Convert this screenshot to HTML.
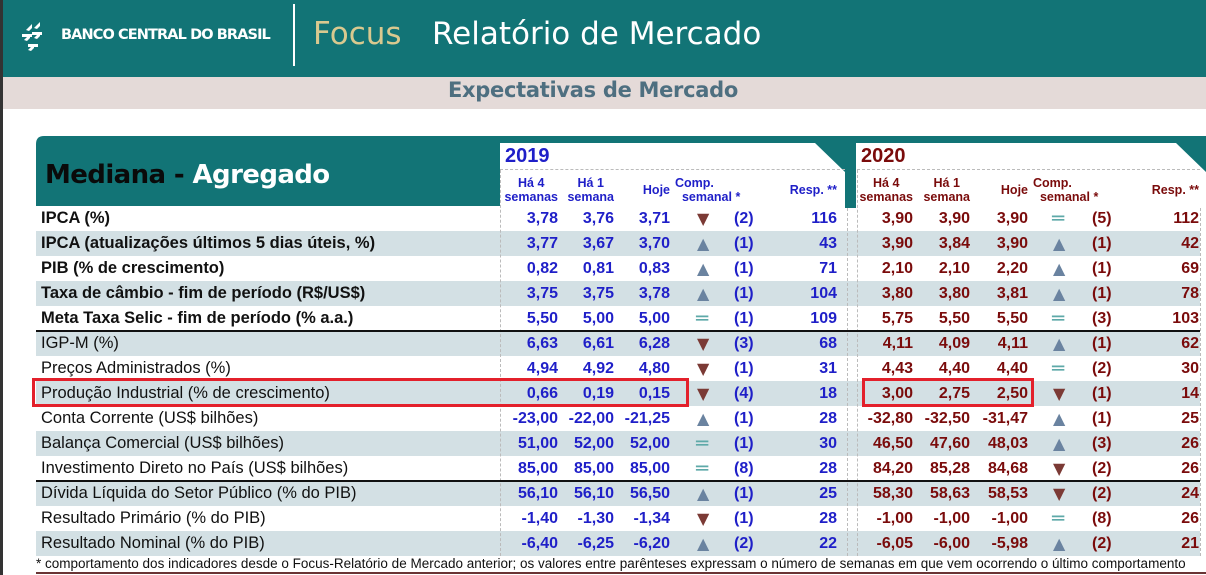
<!DOCTYPE html>
<html><head><meta charset="utf-8">
<style>
*{margin:0;padding:0;box-sizing:border-box}
body{width:1206px;height:575px;overflow:hidden;background:#fff;position:relative;font-family:"Liberation Sans Narrow","Liberation Sans",sans-serif}
.abs{position:absolute}
.hdr{left:0;top:0;width:1206px;height:77px;background:#127476}
.band{left:0;top:77px;width:1206px;height:32px;background:#e4dad8}
.lb{left:0;top:0;width:3px;height:575px;background:#333;z-index:5}
.cell{position:absolute;font-weight:bold;font-size:16px;white-space:nowrap;line-height:25px}
.lab{position:absolute;left:41px;font-size:16.5px;line-height:25px;white-space:nowrap;color:#111;font-family:"Liberation Sans",sans-serif}
.th{position:absolute;font-weight:bold;font-size:12.5px;line-height:14px;text-align:right;white-space:nowrap}
</style></head><body>
<div class="abs lb"></div>
<div class="abs hdr">
  <svg class="abs" style="left:20px;top:20px" width="40" height="36">
    <g fill="#fff"><path d="M6 10 l6-6 v4 l-3 3z"/><path d="M14 8 l6-6 v4 l-3 3z"/><path d="M4 20 l6-6 v4 l-3 3z"/><path d="M14 18 l6-6 v4 l-3 3z"/><path d="M8 30 l6-6 v4 l-3 3z"/><path d="M2 14h10v3H2z"/><path d="M12 12h10v3H12z"/><path d="M8 24h10v3H8z"/></g>
  </svg>
  <div class="abs" style="left:61px;top:27px;color:#fff;font-weight:bold;font-size:14.5px;font-family:'DejaVu Sans',sans-serif;letter-spacing:-0.9px">BANCO CENTRAL DO BRASIL</div>
  <div class="abs" style="left:293px;top:4px;width:2px;height:62px;background:#fff"></div>
  <div class="abs" style="left:313px;top:16px;color:#d9c98f;font-size:31px;font-family:'DejaVu Sans',sans-serif">Focus</div>
  <div class="abs" style="left:432px;top:16px;color:#fff;font-size:31px;font-family:'DejaVu Sans',sans-serif">Relatório de Mercado</div>
</div>
<div class="abs band">
  <div class="abs" style="left:0;width:1186px;text-align:center;top:1px;color:#4e6f80;font-weight:bold;font-size:21px;font-family:'DejaVu Sans',sans-serif;letter-spacing:-0.3px">Expectativas de Mercado</div>
</div>

<svg class="abs" style="left:0;top:0" width="1206" height="575" id="tbl">
  <path d="M36 144 q0-8 8-8 H1206 V206 H36 Z" fill="#127476"/>
  <rect x="845" y="170" width="11" height="38" fill="#127476"/>
  <path d="M500 143 H815 L845 172 V206 H500 Z" fill="#fff"/>
  <path d="M856 143 H1176 L1206 172 V206 H856 Z" fill="#fff"/>
</svg>
<div class="abs" style="left:45px;top:160px;font-size:26px;font-weight:bold;color:#0a0a0a;font-family:'DejaVu Sans',sans-serif;letter-spacing:-0.6px">Mediana - <span style="color:#fff">Agregado</span></div>
<div id="rows"></div>

<div class="abs" style="left:36px;top:556px;font-size:13.5px;color:#111;white-space:nowrap;font-family:'Liberation Sans',sans-serif">* comportamento dos indicadores desde o Focus-Relatório de Mercado anterior; os valores entre parênteses expressam o número de semanas em que vem ocorrendo o último comportamento</div>
<div class="abs" style="left:36px;top:572px;width:1170px;height:2px;background:#6a3434"></div>

<script>
const labels=["IPCA (%)","IPCA (atualizações últimos 5 dias úteis, %)","PIB (% de crescimento)","Taxa de câmbio - fim de período (R$/US$)","Meta Taxa Selic - fim de período (% a.a.)","IGP-M (%)","Preços Administrados (%)","Produção Industrial (% de crescimento)","Conta Corrente (US$ bilhões)","Balança Comercial (US$ bilhões)","Investimento Direto no País (US$ bilhões)","Dívida Líquida do Setor Público (% do PIB)","Resultado Primário (% do PIB)","Resultado Nominal (% do PIB)"];
const y19a=["3,78","3,77","0,82","3,75","5,50","6,63","4,94","0,66","-23,00","51,00","85,00","56,10","-1,40","-6,40"];
const y19b=["3,76","3,67","0,81","3,75","5,00","6,61","4,92","0,19","-22,00","52,00","85,00","56,10","-1,30","-6,25"];
const y19c=["3,71","3,70","0,83","3,78","5,00","6,28","4,80","0,15","-21,25","52,00","85,00","56,50","-1,34","-6,20"];
const y19t=["d","u","u","u","e","d","d","d","u","e","e","u","d","u"];
const y19n=["(2)","(1)","(1)","(1)","(1)","(3)","(1)","(4)","(1)","(1)","(8)","(1)","(1)","(2)"];
const y19r=["116","43","71","104","109","68","31","18","28","30","28","25","28","22"];
const y20a=["3,90","3,90","2,10","3,80","5,75","4,11","4,43","3,00","-32,80","46,50","84,20","58,30","-1,00","-6,05"];
const y20b=["3,90","3,84","2,10","3,80","5,50","4,09","4,40","2,75","-32,50","47,60","85,28","58,63","-1,00","-6,00"];
const y20c=["3,90","3,90","2,20","3,81","5,50","4,11","4,40","2,50","-31,47","48,03","84,68","58,53","-1,00","-5,98"];
const y20t=["e","u","u","u","e","u","e","d","u","u","d","d","e","u"];
const y20n=["(5)","(1)","(1)","(1)","(3)","(1)","(2)","(1)","(1)","(3)","(2)","(2)","(8)","(2)"];
const y20r=["112","42","69","78","103","62","30","14","25","26","26","24","26","21"];

const R=document.getElementById('rows');
const top0=206,rh=25;
function rowY(i){return top0+rh*i;}
function add(html,cls,css,name,inter){const d=document.createElement('div');d.className=cls;d.style.cssText=css;d.innerHTML=html;


R.appendChild(d);return d;}

labels.forEach((l,i)=>{
  const y=rowY(i);
  if(i%2==1){add('','abs',`left:36px;top:${y}px;width:1164px;height:${rh}px;background:#d3e0e4`,'row-stripe',false);}
  add(l,'lab',`top:${y}px;${i<5?'font-weight:bold;':''}`,'row-label',false);
});
[500,847,857,1200].forEach(x=>{const t=(x==500||x==857)?170:208;add('','abs',`left:${x}px;top:${t}px;width:0;height:${556-t}px;border-left:1px dashed #bbb`,'column-divider',false);});
[[500,845],[857,1200]].forEach(s=>{add('','abs',`left:${s[0]}px;top:169px;width:${s[1]-s[0]}px;height:0;border-top:1px dashed #bbb`,'header-divider',false);});
[5,11].forEach(i=>{add('','abs',`left:36px;top:${rowY(i)-1}px;width:1164px;height:2px;background:#111`,'group-separator',false);});

function section(yearTxt,col,x0,arrs,tr,nn,rr,xs){
  add(yearTxt,'cell',`left:${x0+5}px;top:144px;font-size:20px;color:${col}`,'year-label',false);
  const hd=[["Há 4<br>semanas",xs[0]],["Há 1<br>semana",xs[1]]];
  hd.forEach(h=>add(h[0],'th',`right:${1206-h[1]}px;top:176px;color:${col};text-align:center`,'column-header',false));
  add('Hoje','th',`right:${1206-xs[2]}px;top:183px;color:${col}`,'column-header',false);
  add('Comp.<br>&nbsp;&nbsp;semanal *','th',`left:${xs[2]+5}px;top:176px;color:${col};text-align:left`,'column-header',false);
  add('Resp. **','th',`right:${1206-xs[5]}px;top:183px;color:${col}`,'column-header',false);
  labels.forEach((_,i)=>{
    const y=rowY(i);
    [0,1,2].forEach(k=>add(arrs[k][i],'cell',`right:${1206-xs[k]}px;top:${y}px;color:${col}`,'value-cell',false));
    const t=tr[i];let g,c;
    if(t=='d'){g='▼';c='#7b3a35';}else if(t=='u'){g='▲';c='#6a83a0';}else{g='═';c='#5ea9a8';}
    add(g,'cell',`left:${xs[3]-(t=='e'?9:8)}px;top:${y}px;color:${c};font-size:${t=='e'?20:16}px;font-family:'DejaVu Sans',sans-serif;font-weight:normal`,'trend-icon',false);
    add(nn[i],'cell',`left:${xs[4]-11}px;top:${y}px;color:${col}`,'weeks-count',false);
    add(rr[i],'cell',`right:${1206-xs[5]}px;top:${y}px;color:${col}`,'responses-count',false);
  });
}
section('2019','#1f1fc8',500,[y19a,y19b,y19c],y19t,y19n,y19r,[558,614,670,705,745,837]);
section('2020','#7a0b0b',856,[y20a,y20b,y20c],y20t,y20n,y20r,[913,970,1028,1061,1103,1199]);

const hi=7;
add('','abs',`left:32px;top:${rowY(hi)-3}px;width:657px;height:29px;border:3px solid #e3202b`,'highlight-box-2019',false);
add('','abs',`left:862px;top:${rowY(hi)-3}px;width:172px;height:29px;border:3px solid #e3202b`,'highlight-box-2020',false);
</script>
</body></html>
